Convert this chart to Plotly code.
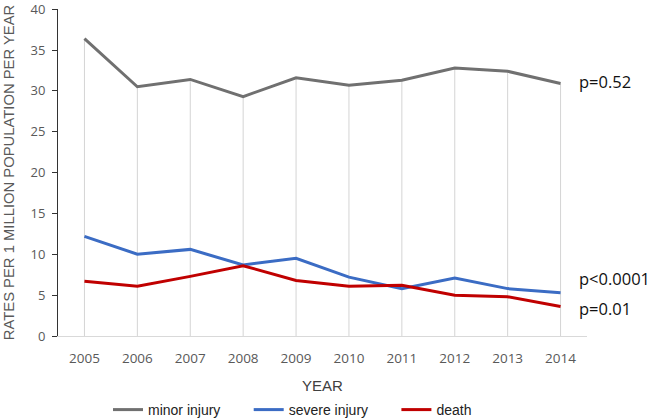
import plotly.graph_objects as go

years = [2005, 2006, 2007, 2008, 2009, 2010, 2011, 2012, 2013, 2014]
minor_injury = [36.4, 30.5, 31.4, 29.3, 31.6, 30.7, 31.3, 32.8, 32.4, 30.9]
severe_injury = [12.2, 10.0, 10.6, 8.7, 9.5, 7.2, 5.8, 7.1, 5.8, 5.3]
death = [6.7, 6.1, 7.3, 8.6, 6.8, 6.1, 6.2, 5.0, 4.8, 3.6]
p_labels = ["p=0.52", "p<0.0001", "p=0.01"]
y_ticks = [0, 5, 10, 15, 20, 25, 30, 35, 40]

TITLE_FONT = "Liberation Sans, Arial, sans-serif"
TICK_FONT = "Open Sans, sans-serif"

fig = go.Figure()

# drop lines from the highest series down to the axis
top = [max(a, b, c) for a, b, c in zip(minor_injury, severe_injury, death)]
dx, dy = [], []
for x, t in zip(years, top):
    dx += [x, x, None]
    dy += [0, t, None]
fig.add_trace(go.Scatter(x=dx, y=dy, mode="lines", line=dict(color="#d4d4d4", width=1),
                         showlegend=False, hoverinfo="skip"))

pad = "\u00a0" * 6
series = [("minor injury" + pad, minor_injury, "#707070"),
          ("severe injury" + pad, severe_injury, "#3b6cc4"),
          ("death", death, "#c00000")]
for name, vals, col in series:
    fig.add_trace(go.Scatter(x=years, y=vals, mode="lines", name=name,
                             line=dict(color=col, width=3)))

# p-value labels placed next to the last points
last_vals = [minor_injury[-1] + 0.2, severe_injury[-1] + 1.7, death[-1] - 0.2]
for lab, v in zip(p_labels, last_vals):
    fig.add_annotation(x=years[-1], y=v, xref="x", yref="y", text=lab, showarrow=False,
                       xanchor="left", xshift=16, yanchor="middle",
                       font=dict(family=TICK_FONT, size=16.5, color="#111111"))

fig.update_layout(
    width=650, height=420,
    margin=dict(l=58, r=63, t=9, b=84, autoexpand=False),
    paper_bgcolor="white", plot_bgcolor="white",
    showlegend=True,
    legend=dict(orientation="h", xref="container", x=108 / 650, xanchor="left",
                yref="container", y=1 - 410 / 420, yanchor="middle",
                traceorder="normal",
                font=dict(family=TITLE_FONT, size=14, color="#222222"),
                itemwidth=30, tracegroupgap=0),
)
fig.update_xaxes(
    range=[2004.5, 2014.5], tickmode="array", tickvals=years,
    ticktext=[str(y) for y in years], automargin=False,
    showgrid=False, zeroline=False,
    showline=True, linecolor="#d9d9d9", linewidth=1,
    ticks="", tickfont=dict(family=TICK_FONT, size=13.5, color="#595959"),
    ticklabelstandoff=10,
    title=dict(text="YEAR", font=dict(family=TITLE_FONT, size=15, color="#404040"), standoff=14),
)
fig.update_yaxes(
    range=[0, 40.02], tickmode="array", tickvals=y_ticks, automargin=False,
    showgrid=False, zeroline=False,
    showline=True, linecolor="#333333", linewidth=1,
    ticks="outside", ticklen=5, tickcolor="#333333",
    tickfont=dict(family=TICK_FONT, size=13, color="#595959"),
    ticklabelstandoff=4, ticklabeloverflow="allow",
    title=dict(text="RATES PER 1 MILLION POPULATION PER YEAR",
               font=dict(family=TITLE_FONT, size=14.8, color="#595959"), standoff=12),
)

fig.write_html("out.html", config={"displayModeBar": False},
               post_script="document.body.style.margin='0';")
